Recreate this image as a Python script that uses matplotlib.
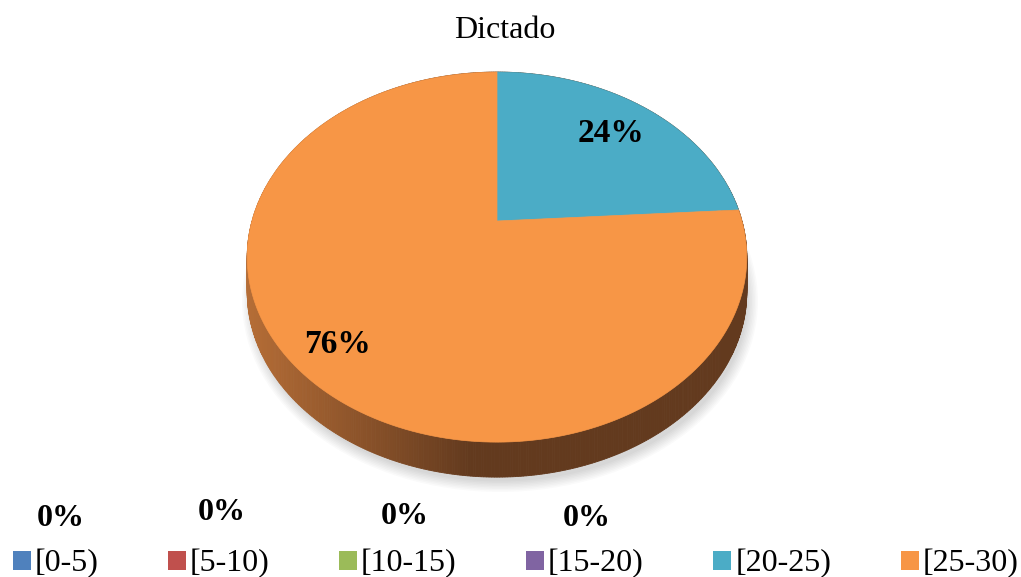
import matplotlib
matplotlib.use("Agg")
import matplotlib.pyplot as plt
import numpy as np
from matplotlib.patches import Polygon, Patch, Ellipse

# datos del grafico
categorias = ['[0-5)', '[5-10)', '[10-15)', '[15-20)', '[20-25)', '[25-30)']
porcentajes = [0, 0, 0, 0, 24, 76]
colores = ['#4F81BD', '#C0504D', '#9BBB59', '#8064A2', '#4BACC6', '#F79646']
titulo = 'Dictado'

# geometria del pastel 3D (pixeles de la figura)
CX, CY = 497, 221      # centro del disco proyectado
A, B = 245.0, 178.0    # escalas horizontal / vertical
K = 0.195              # perspectiva
PROF = 35              # grosor del pastel
RADIO_ETIQ = [0.8, 0.8, 0.8, 0.8, 0.75, 0.84]
# las etiquetas de 0% quedan fuera, donde Excel las coloco
POS_CEROS = [(61, 518), (222, 512), (405, 517), (587, 519)]

plt.rcParams['font.family'] = ['Liberation Serif', 'DejaVu Serif']


def proyectar(theta, r=1.0, dy=0.0):
    # theta en grados, sentido horario desde las 12
    t = np.radians(theta)
    u = r * np.sin(t)
    v = r * np.cos(t)
    w = 1 + K * v
    return CX + A * u / w, CY - B * v / w + dy


fig = plt.figure(figsize=(10.21, 5.77), dpi=100)
ax = fig.add_axes([0, 0, 1, 1])
ax.set_xlim(0, 1021)
ax.set_ylim(577, 0)
ax.axis('off')

# sombra suave
for i in range(8):
    ax.add_patch(Ellipse((CX + 3, 262 + PROF + 4), 2 * 252 + 12 - i * 3, 2 * 186 + 10 - i * 3,
                         fc='#000000', alpha=0.018, ec='none', zorder=1))

# lado (canto) del pastel
angs = np.linspace(0, 360, 721)
x_izq, x_der = 247, 470
c0 = np.array([0xb5, 0x6d, 0x36]) / 255
c1 = np.array([0x63, 0x3a, 0x1e]) / 255
for a0, a1 in zip(angs[:-1], angs[1:]):
    x0, y0 = proyectar(a0)
    x1, y1 = proyectar(a1)
    xm = (x0 + x1) / 2
    f = np.clip((xm - x_izq) / (x_der - x_izq), 0, 1)
    col = c0 * (1 - f) + c1 * f
    ax.add_patch(Polygon([(x0, y0), (x1, y1), (x1, y1 + PROF), (x0, y0 + PROF)],
                         closed=True, fc=col, ec=col, lw=0.6, zorder=2))

# cara superior
inicio = 0.0
total = sum(porcentajes)
for cat, val, col, rl in zip(categorias, porcentajes, colores, RADIO_ETIQ):
    ang = 360 * val / total
    if val > 0:
        ts = np.linspace(inicio, inicio + ang, 200)
        pts = [(CX, CY)] + [proyectar(t) for t in ts]
        ax.add_patch(Polygon(pts, closed=True, fc=col, ec=col, lw=0.5, zorder=3))
        lx, ly = proyectar(inicio + ang / 2, rl)
        ax.text(lx, ly, f'{val}%', ha='center', va='center', fontsize=24,
                fontweight='bold', zorder=5)
    inicio += ang

for (px, py), val in zip(POS_CEROS, [v for v in porcentajes if v == 0]):
    ax.text(px, py, f'{val}%', ha='center', va='center', fontsize=23, fontweight='bold')

ax.text(505, 30, titulo, ha='center', va='center', fontsize=23)

manejadores = [Patch(fc=c, ec='none') for c in colores]
fig.legend(manejadores, categorias, loc='lower center', bbox_to_anchor=(0.505, -0.036),
           ncol=6, frameon=False, fontsize=23, handlelength=0.56, handleheight=0.56,
           handletextpad=0.12, columnspacing=2.18, borderaxespad=0.2)

fig.savefig('out.png', dpi=100)
